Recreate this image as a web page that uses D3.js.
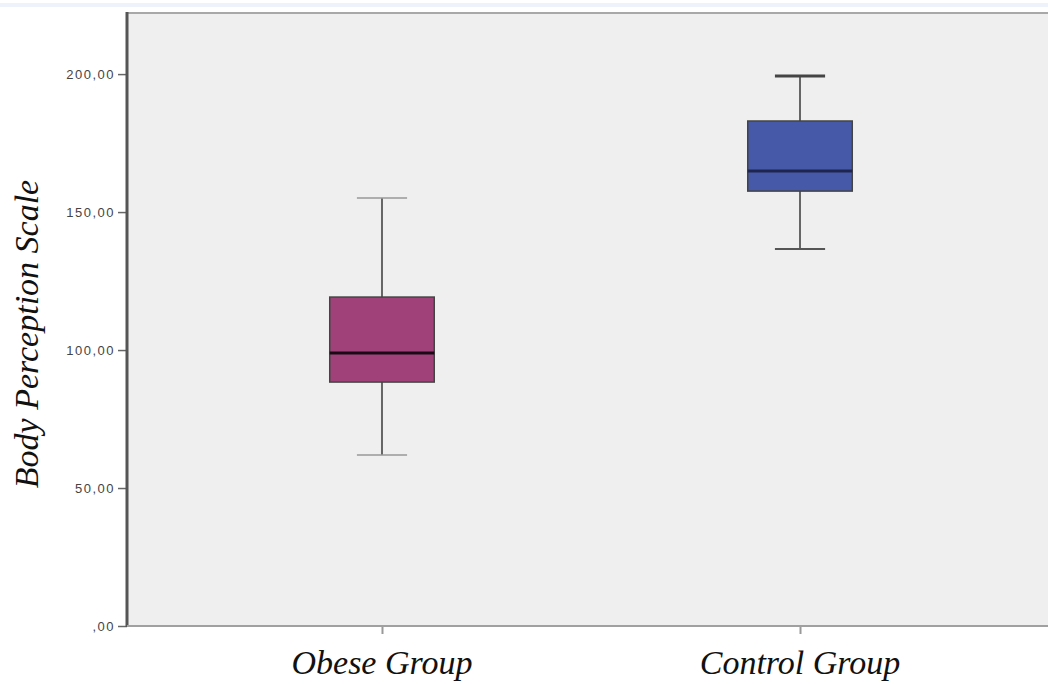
<!DOCTYPE html>
<meta charset="utf-8">
<style>
body { margin: 0; background: #fff; }
.tick text { font-family: "Liberation Sans", Arial, sans-serif; font-size: 13px; letter-spacing: 1.5px; fill: #444; }
.label { font-family: "Liberation Serif", "Times New Roman", serif; font-style: italic; fill: #111; }
</style>
<body>
<script src="https://d3js.org/d3.v7.min.js"></script>
<script>

// data
var groups = ["Obese Group", "Control Group"];
var whiskerLow  = [62.0, 136.6];
var q1          = [88.4, 157.6];
var median      = [98.9, 164.9];
var q3          = [119.2, 183.0];
var whiskerHigh = [155.1, 199.3];
var boxColors   = ["#a0417a", "#4658a8"];
var yTicks      = [0, 50, 100, 150, 200];
var yTickLabels = [",00", "50,00", "100,00", "150,00", "200,00"];

var W = 1048, H = 684;
var plotL = 127, plotT = 12, plotB = 626, plotR = 1055;

var svg = d3.select("body").append("svg")
	.attr("width", W)
	.attr("height", H);

// faint line at the top of the image
svg.append("rect")
	.attr("x", 0).attr("y", 3).attr("width", W).attr("height", 4)
	.attr("fill", "#eef2fb");

// scales
var y = d3.scaleLinear().domain([0, 222.5]).range([plotB, plotT]);
var x = d3.scalePoint().domain(groups).range([plotL, plotR]).padding(0.61);
var step = x.step();

// plot background
svg.append("rect")
	.attr("x", plotL).attr("y", plotT)
	.attr("width", plotR - plotL).attr("height", plotB - plotT)
	.attr("fill", "#efefef");

// top border
svg.append("line")
	.attr("x1", plotL).attr("x2", plotR)
	.attr("y1", plotT + 1).attr("y2", plotT + 1)
	.attr("stroke", "#a8a8a8").attr("stroke-width", 2);

// boxes
var data = groups.map(function(g, i) {
	return {g: g, lo: whiskerLow[i], q1: q1[i], med: median[i], q3: q3[i], hi: whiskerHigh[i], c: boxColors[i]};
});

var boxW = step * 0.25, capW = step * 0.12;

var gBox = svg.selectAll(".box").data(data).enter().append("g").attr("class", "box");

gBox.append("line")
	.attr("x1", function(d) { return x(d.g); })
	.attr("x2", function(d) { return x(d.g); })
	.attr("y1", function(d) { return y(d.hi); })
	.attr("y2", function(d) { return y(d.lo); })
	.attr("stroke", "#666").attr("stroke-width", 2);

gBox.append("line")
	.attr("x1", function(d) { return x(d.g) - capW / 2; })
	.attr("x2", function(d) { return x(d.g) + capW / 2; })
	.attr("y1", function(d) { return y(d.hi); })
	.attr("y2", function(d) { return y(d.hi); })
	.attr("stroke", function(d, i) { return i == 1 ? "#444" : "#999"; })
	.attr("stroke-width", function(d, i) { return i == 1 ? 3 : 1.5; });

gBox.append("line")
	.attr("x1", function(d) { return x(d.g) - capW / 2; })
	.attr("x2", function(d) { return x(d.g) + capW / 2; })
	.attr("y1", function(d) { return y(d.lo); })
	.attr("y2", function(d) { return y(d.lo); })
	.attr("stroke", function(d, i) { return i == 1 ? "#555" : "#999"; })
	.attr("stroke-width", function(d, i) { return i == 1 ? 2 : 1.5; });

gBox.append("rect")
	.attr("x", function(d) { return x(d.g) - boxW / 2; })
	.attr("width", boxW)
	.attr("y", function(d) { return y(d.q3); })
	.attr("height", function(d) { return y(d.q1) - y(d.q3); })
	.attr("fill", function(d) { return d.c; })
	.attr("stroke", "#444").attr("stroke-width", 1.5);

gBox.append("line")
	.attr("x1", function(d) { return x(d.g) - boxW / 2; })
	.attr("x2", function(d) { return x(d.g) + boxW / 2; })
	.attr("y1", function(d) { return y(d.med); })
	.attr("y2", function(d) { return y(d.med); })
	.attr("stroke", function(d, i) { return i == 1 ? "#1e2650" : "#1a0a14"; })
	.attr("stroke-width", 3);

// y axis
var yAxis = svg.append("g")
	.attr("transform", "translate(" + plotL + ",0)")
	.call(d3.axisLeft(y).tickValues(yTicks).tickSize(9).tickPadding(3)
		.tickFormat(function(d, i) { return yTickLabels[i]; }));
yAxis.select(".domain").remove();
yAxis.selectAll(".tick line").attr("stroke", "#666").attr("stroke-width", 1.5);
yAxis.append("line")
	.attr("x1", 0).attr("x2", 0).attr("y1", plotT).attr("y2", plotB + 1)
	.attr("stroke", "#555").attr("stroke-width", 3);

// x axis
var xAxis = svg.append("g")
	.attr("transform", "translate(0," + plotB + ")")
	.call(d3.axisBottom(x).tickSize(8).tickFormat(""));
xAxis.select(".domain").remove();
xAxis.selectAll(".tick line").attr("stroke", "#999").attr("stroke-width", 2);
xAxis.append("line")
	.attr("x1", plotL).attr("x2", plotR).attr("y1", 0).attr("y2", 0)
	.attr("stroke", "#a0a0a0").attr("stroke-width", 2);

// category labels
svg.selectAll(".xlab").data(groups).enter().append("text")
	.attr("class", "label")
	.attr("x", function(d) { return x(d); })
	.attr("y", 674)
	.attr("text-anchor", "middle")
	.attr("font-size", "34px")
	.text(function(d) { return d; });

// y axis title
svg.append("text")
	.attr("class", "label")
	.attr("transform", "translate(38," + 334 + ") rotate(-90)")
	.attr("text-anchor", "middle")
	.attr("font-size", "34px")
	.text("Body Perception Scale");

</script>
</body>
